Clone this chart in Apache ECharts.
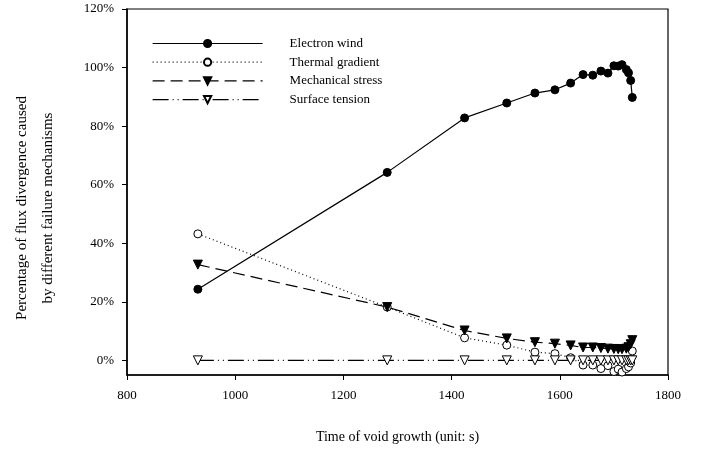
<!DOCTYPE html>
<html>
<head>
<meta charset="utf-8">
<script src="https://cdn.jsdelivr.net/npm/echarts@6/dist/echarts.min.js"></script>
<style>
  html, body { margin: 0; padding: 0; background: #fff; }
  #main { width: 711px; height: 449px; }
</style>
</head>
<body>
<div id="main"></div>
<script>
// time of void growth (s)
const times = [931, 1281, 1424, 1502, 1554, 1591, 1620, 1643, 1661, 1676, 1689, 1700, 1708, 1715, 1723, 1727, 1731, 1734];
// percentages (%)
const electronWind = [24.3, 64.2, 82.8, 87.9, 91.3, 92.4, 94.7, 97.6, 97.4, 98.8, 98.1, 100.6, 100.5, 101.0, 99.3, 98.2, 95.6, 89.8];
const thermalGradient = [43.2, 18.2, 7.7, 5.2, 2.8, 2.3, 0.9, -1.6, -1.6, -2.8, -1.8, -3.8, -3.0, -4.0, -2.8, -2.2, -0.9, 3.2];
const mechanicalStress = [32.7, 18.2, 10.2, 7.5, 6.2, 5.7, 5.1, 4.4, 4.4, 4.2, 4.0, 3.9, 3.8, 3.8, 4.0, 4.5, 5.5, 6.9];
const surfaceTension = [0, 0, 0, 0, 0, 0, 0, 0, 0, 0, 0, 0, 0, 0, 0, 0, 0, 0];
const yTicks = [0, 20, 40, 60, 80, 100, 120];

const font = 'Liberation Serif';
const pairs = (ys) => times.map((t, i) => [t, ys[i]]);

const chart = echarts.init(document.getElementById('main'));

function lineSeries(name, ys, symbol, fill, dash, rotate) {
  return {
    name: name,
    type: 'line',
    data: pairs(ys),
    symbol: symbol,
    symbolSize: symbol === 'circle' ? 8 : 9,
    symbolRotate: rotate || 0,
    showAllSymbol: true,
    lineStyle: { color: '#000', width: 1.2, type: dash },
    itemStyle: { color: fill, borderColor: '#000', borderWidth: 1 },
    emphasis: { disabled: true },
    animation: false,
    z: 3
  };
}

const option = {
  backgroundColor: '#fff',
  animation: false,
  grid: {
    left: 127, right: 43, top: 9, bottom: 74,
    show: true, borderColor: '#000', borderWidth: 1.2,
    backgroundColor: 'transparent'
  },
  legend: {
    left: 147, top: 32,
    orient: 'vertical',
    itemWidth: 110, itemHeight: 9, itemGap: 5.7,
    lineStyle: { width: 1.2 },
    textStyle: { fontFamily: font, fontSize: 13, color: '#000', padding: [0, 0, 0, 22] },
    data: ['Electron wind', 'Thermal gradient', 'Mechanical stress', 'Surface tension']
  },
  xAxis: {
    type: 'value', min: 800, max: 1800, interval: 200,
    name: 'Time of void growth (unit: s)',
    nameLocation: 'middle', nameGap: 55,
    nameTextStyle: { fontFamily: font, fontSize: 14, color: '#000' },
    axisLine: { show: true, onZero: false, lineStyle: { color: '#000', width: 1.5 } },
    axisTick: { show: true, length: 5, lineStyle: { color: '#000' } },
    axisLabel: { fontFamily: font, fontSize: 13, color: '#000', margin: 14, formatter: (v) => String(v) },
    splitLine: { show: false }
  },
  yAxis: {
    type: 'value', min: -5, max: 120,
    axisLine: { show: true, onZero: false, lineStyle: { color: '#000', width: 1.5 } },
    axisTick: { show: true, length: 5, lineStyle: { color: '#000' }, customValues: yTicks },
    axisLabel: {
      fontFamily: font, fontSize: 13, color: '#000', margin: 13,
      customValues: yTicks,
      formatter: (v) => v + '%'
    },
    splitLine: { show: false }
  },
  graphic: [{
    type: 'text',
    x: 35, y: 208,
    rotation: Math.PI / 2,
    style: {
      text: 'Percentage of flux divergence caused\nby different failure mechanisms',
      fontFamily: font, fontSize: 15, fill: '#000',
      align: 'center', verticalAlign: 'middle', lineHeight: 26
    }
  }],
  series: [
    lineSeries('Electron wind', electronWind, 'circle', '#000', 'solid'),
    lineSeries('Thermal gradient', thermalGradient, 'circle', '#fff', [1, 3]),
    lineSeries('Mechanical stress', mechanicalStress, 'triangle', '#000', [12, 6], 180),
    lineSeries('Surface tension', surfaceTension, 'triangle', '#fff', [16, 4, 1, 4, 1, 4], 180)
  ]
};

chart.setOption(option);
</script>
</body>
</html>
